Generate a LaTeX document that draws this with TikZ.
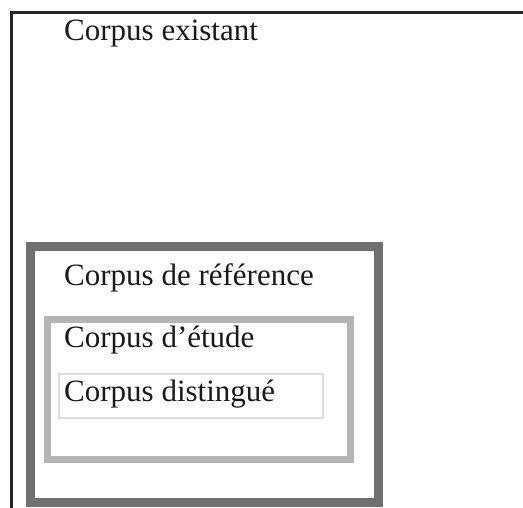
\documentclass[tikz,border=0pt]{standalone}
\usepackage{fontspec}
\setmainfont{Liberation Serif}
\usepackage{xcolor}
\usepackage{tikz}
\usetikzlibrary{calc}
\definecolor{refgray}{HTML}{707070}
\definecolor{studygray}{HTML}{B4B4B4}
\definecolor{distgray}{HTML}{DCDCDC}
\tikzset{
    label text/.style={draw=none, color=black!90, anchor=base west, inner sep=0pt,
        font=\fontsize{31}{36}\selectfont}
}
\begin{document}
\begin{tikzpicture}[x=1pt, y=-1pt]
        \useasboundingbox (0,0) rectangle (523,508);

        % coordinates
        \coordinate (e1) at (11.5,508);
        \coordinate (e2) at (523,12.5);
        \coordinate (r1) at (30,246.5);
        \coordinate (r2) at (378,502);
        \coordinate (s1) at (47,319.5);
        \coordinate (s2) at (350.5,459.5);
        \coordinate (d1) at (59,374);
        \coordinate (d2) at (322.5,417.5);

        % boxes
        \draw[line width=2.5pt, black!85] (e1) |- (e2);
        \draw[line width=9pt, refgray] (r1) rectangle (r2);
        \draw[line width=7pt, studygray] (s1) rectangle (s2);
        \draw[line width=2pt, distgray] (d1) rectangle (d2);

        % Text
        \node[label text] (existant) at (64,41) {Corpus existant};
        \node[label text] (reference) at (64,286) {Corpus de référence};
        \node[label text] (etude) at (64,348) {Corpus d’étude};
        \node[label text] (distingue) at (64,401) {Corpus distingué};

    \end{tikzpicture}
\end{document}
